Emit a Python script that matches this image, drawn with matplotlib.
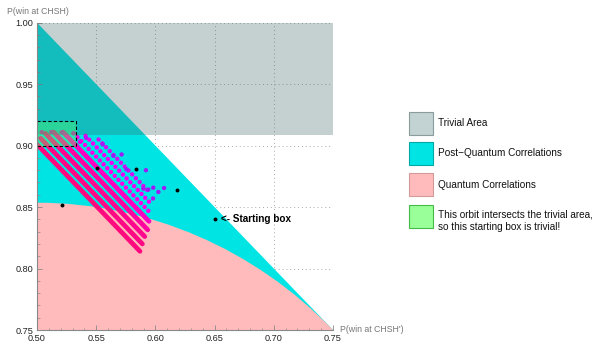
import numpy as np
import matplotlib
matplotlib.use("Agg")
import matplotlib.pyplot as plt
from matplotlib.patches import Polygon, Circle, Rectangle

plt.rcParams['font.family'] = ['Liberation Sans', 'DejaVu Sans']

# ---- data ----
x_ticks = [0.50, 0.55, 0.60, 0.65, 0.70, 0.75]
y_ticks = [0.75, 0.80, 0.85, 0.90, 0.95, 1.00]
x_tick_labels = ["0.50", "0.55", "0.60", "0.65", "0.70", "0.75"]
y_tick_labels = ["0.75", "0.80", "0.85", "0.90", "0.95", "1.00"]

trivial_lower = 0.9085
trivial_upper = 1.0
postq_vertices_x = [0.50, 0.75, 0.50]
postq_vertices_y = [1.00, 0.75, 0.75]
quantum_center = (0.5, 0.5)
quantum_radius = 0.35355
box_x = [0.500, 0.5326]
box_y = [0.900, 0.920]

# dense orbit stripes (start -> end)
stripe_x0 = [0.500, 0.503, 0.507, 0.514, 0.522, 0.531, 0.541, 0.552]
stripe_y0 = [0.901, 0.906, 0.910, 0.911, 0.911, 0.910, 0.908, 0.905]
stripe_x1 = [0.587, 0.589, 0.591, 0.5935, 0.5946, 0.596, 0.5965, 0.596]
stripe_y1 = [0.814, 0.820, 0.826, 0.8315, 0.8384, 0.845, 0.8525, 0.861]
stripe_colors = ["#ff0a7e", "#ff0a84", "#ff088e", "#ff05a0", "#ff02c0",
                 "#ff00e6", "#f200f6", "#d410f2"]
stripe_dotted = [False, False, False, False, False, True, True, True]

# sparse orbit points
dots_x = [0.504, 0.512, 0.5209, 0.5307, 0.5363, 0.5414, 0.5555, 0.5645, 0.5715,
          0.5755, 0.592, 0.5898, 0.594, 0.5982, 0.6025, 0.6073, 0.598]
dots_y = [0.911, 0.911, 0.9108, 0.910, 0.9031, 0.9064, 0.901, 0.8917, 0.8928,
          0.8808, 0.880, 0.865, 0.8642, 0.8658, 0.8623, 0.8655, 0.857]
dots_c = ["#e000c8", "#e000d0", "#e000d8", "#e000e0", "#e800e8", "#c010f0",
          "#a01cf4", "#9b1cf5", "#9b1cf5", "#a01cf4", "#9b1cf5", "#a81cf2",
          "#9b1cf5", "#9b1cf5", "#9b1cf5", "#9b1cf5", "#a81cf2"]

# black orbit points
black_x = [0.5209, 0.5504, 0.5836, 0.618, 0.6503]
black_y = [0.852, 0.8814, 0.8808, 0.8637, 0.840]
start_label = "<- Starting box"

legend_labels = ["Trivial Area", "Post\u2212Quantum Correlations", "Quantum Correlations",
                 "This orbit intersects the trivial area,\nso this starting box is trivial!"]

# ---- colors ----
cyan = "#00e4e4"
pink = "#ffbbbb"
gray_rgba = (64/255, 102/255, 102/255, 0.3)
green_rgba = (0.35, 1.0, 0.35, 0.35)

fig = plt.figure(figsize=(6.1, 3.42), dpi=100)
ax = fig.add_axes([37/610, 12/342, 296/610, 307.3/342])
ax.set_xlim(0.5, 0.75)
ax.set_ylim(0.75, 1.0)

ax.add_patch(Polygon(np.column_stack([postq_vertices_x, postq_vertices_y]),
                     closed=True, facecolor=cyan, edgecolor='none', zorder=1))
ax.add_patch(Circle(quantum_center, quantum_radius, facecolor=pink,
                    edgecolor='none', zorder=1.5))

for i in range(len(stripe_x0)):
    if stripe_dotted[i]:
        ax.plot([stripe_x0[i], stripe_x1[i]], [stripe_y0[i], stripe_y1[i]],
                color=stripe_colors[i], lw=3.2, linestyle=(0, (0.01, 1.2)),
                dash_capstyle='round', zorder=3)
    else:
        ax.plot([stripe_x0[i], stripe_x1[i]], [stripe_y0[i], stripe_y1[i]],
                color=stripe_colors[i], lw=3.4, solid_capstyle='round', zorder=3)

ax.scatter(dots_x, dots_y, s=10, c=dots_c, linewidths=0, zorder=3.5)
ax.scatter(black_x, black_y, s=8, c='black', linewidths=0, zorder=4)
ax.text(black_x[-1] + 0.005, black_y[-1], start_label, fontsize=7.2,
        fontweight='bold', va='center', ha='left', zorder=6)

ax.axhspan(trivial_lower, trivial_upper, facecolor=gray_rgba, edgecolor='none', zorder=5)
ax.add_patch(Rectangle((box_x[0], box_y[0]), box_x[1] - box_x[0], box_y[1] - box_y[0],
                       facecolor=green_rgba, edgecolor='black', lw=0.8,
                       linestyle=(0, (3, 2)), zorder=5.5))

# grid
for xv in x_ticks[1:]:
    ax.axvline(xv, color='#a8a8a8', lw=0.7, linestyle=(0, (1, 3)), zorder=0.5)
for yv in y_ticks[1:]:
    ax.axhline(yv, color='#a8a8a8', lw=0.7, linestyle=(0, (1, 3)), zorder=0.5)

ax.set_xticks(x_ticks)
ax.set_xticklabels(x_tick_labels)
ax.set_yticks(y_ticks)
ax.set_yticklabels(y_tick_labels)
ax.set_xticks(np.arange(0.51, 0.75, 0.01), minor=True)
ax.set_yticks(np.arange(0.76, 1.0, 0.01), minor=True)
ax.tick_params(which='major', direction='in', length=3.5, width=0.6, color='#888888',
               labelsize=6.6, labelcolor='#222222')
ax.tick_params(axis='x', which='major', pad=3.0)
ax.tick_params(axis='y', which='major', pad=2.8)
ax.tick_params(which='minor', direction='in', length=1.8, width=0.5, color='#888888')
for s in ['top', 'right']:
    ax.spines[s].set_visible(False)
for s in ['left', 'bottom']:
    ax.spines[s].set_color('#888888')
    ax.spines[s].set_linewidth(0.8)
    ax.spines[s].set_zorder(7)

fig.text(6.7/610, 1 - 11.7/342, "P(win at CHSH)", fontsize=6.3, color='#777777',
         ha='left', va='center')
fig.text(340/610, 1 - 329/342, "P(win at CHSH')", fontsize=6.3, color='#777777',
         ha='left', va='center')

# legend (manual)
sw_face = ["#c3d2d2", cyan, pink, "#99ff99"]
sw_edge = ["#8a9c9c", "#00a8a8", "#d49a9a", "#44bb44"]
sw_top = [111.7, 142.0, 173.0, 205.0]
for i in range(4):
    fig.patches.append(Rectangle((409/610, 1 - (sw_top[i] + 23)/342), 24/610, 23/342,
                                 transform=fig.transFigure, facecolor=sw_face[i],
                                 edgecolor=sw_edge[i], lw=0.8))
    fig.text(438/610, 1 - (sw_top[i] + 11.5 + (4.5 if i == 3 else 0))/342,
             legend_labels[i], fontsize=7.2, ha='left', va='center',
             linespacing=1.35, color='#111111')

fig.savefig("out.png", dpi=100)
